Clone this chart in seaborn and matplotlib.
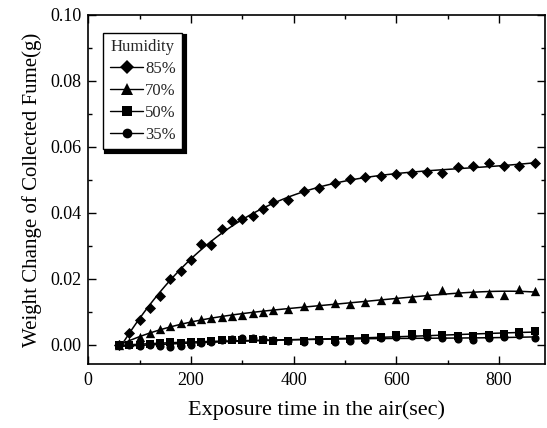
import matplotlib
matplotlib.use("Agg")
import matplotlib.pyplot as plt
from matplotlib.lines import Line2D
from matplotlib.ticker import MultipleLocator
import numpy as np
import pandas as pd
import seaborn as sns

# exposure time (sec): 20 s steps up to 360, then 30 s steps
time_sec = [60, 80, 100, 120, 140, 160, 180, 200, 220, 240, 260, 280, 300, 320, 340, 360,
            390, 420, 450, 480, 510, 540, 570, 600, 630, 660, 690, 720, 750, 780, 810, 840, 870]

rh85 = [0.0000, 0.0035, 0.0076, 0.0111, 0.0149, 0.0200, 0.0224, 0.0258, 0.0305, 0.0303,
        0.0352, 0.0374, 0.0382, 0.0391, 0.0412, 0.0432, 0.0439, 0.0465, 0.0475, 0.0490,
        0.0503, 0.0510, 0.0513, 0.0518, 0.0522, 0.0524, 0.0520, 0.0538, 0.0543, 0.0552,
        0.0543, 0.0543, 0.0550]
rh70 = [0.0000, 0.0010, 0.0023, 0.0035, 0.0048, 0.0057, 0.0065, 0.0071, 0.0078, 0.0082,
        0.0084, 0.0087, 0.0091, 0.0096, 0.0101, 0.0106, 0.0109, 0.0118, 0.0121, 0.0128,
        0.0123, 0.0131, 0.0136, 0.0138, 0.0141, 0.0152, 0.0165, 0.0159, 0.0157, 0.0157,
        0.0152, 0.0169, 0.0162]
rh50 = [0.0000, 0.0000, 0.0000, 0.0002, 0.0005, 0.0008, 0.0005, 0.0008, 0.0010, 0.0012,
        0.0014, 0.0016, 0.0015, 0.0017, 0.0014, 0.0013, 0.0013, 0.0013, 0.0014, 0.0015,
        0.0017, 0.0020, 0.0025, 0.0030, 0.0034, 0.0035, 0.0030, 0.0028, 0.0027, 0.0030,
        0.0033, 0.0040, 0.0042]
rh35 = [0.0000, 0.0000, -0.0002, 0.0000, -0.0003, -0.0005, -0.0004, 0.0000, 0.0005, 0.0010,
        0.0015, 0.0018, 0.0020, 0.0020, 0.0019, 0.0015, 0.0012, 0.0010, 0.0012, 0.0008,
        0.0012, 0.0015, 0.0020, 0.0025, 0.0028, 0.0025, 0.0022, 0.0018, 0.0015, 0.0020,
        0.0023, 0.0030, 0.0020]

humidity_labels = ["85%", "70%", "50%", "35%"]
series = [rh85, rh70, rh50, rh35]
markers = ["D", "^", "s", "o"]
marker_sizes = [32, 45, 30, 34]

sns.set_theme(style="ticks")
plt.rcParams["font.family"] = ["Liberation Serif", "DejaVu Serif"]

fig = plt.figure(figsize=(5.47, 4.28), dpi=100)
ax = fig.add_axes([0.1614, 0.1495, 0.835, 0.8155])

# polynomial trend line through each humidity series, plus the measured points
for vals, mk, ms in zip(series, markers, marker_sizes):
    df = pd.DataFrame({"time": time_sec, "weight": vals})
    sns.regplot(
        data=df, x="time", y="weight", ax=ax, order=4, ci=None,
        marker=mk, color="black",
        scatter_kws={"s": ms, "linewidths": 0, "alpha": 1},
        line_kws={"linewidth": 1.1, "color": "black"},
    )

ax.set_xlim(0, 890)
ax.set_ylim(-0.0058, 0.10)
ax.xaxis.set_major_locator(MultipleLocator(200))
ax.xaxis.set_minor_locator(MultipleLocator(100))
ax.yaxis.set_major_locator(MultipleLocator(0.02))
ax.yaxis.set_minor_locator(MultipleLocator(0.01))
ax.yaxis.set_major_formatter(matplotlib.ticker.FormatStrFormatter("%.2f"))
ax.tick_params(which="both", direction="in", top=True, right=True, colors="black",
               labelsize=13, width=1.0)
ax.tick_params(which="major", length=6)
ax.tick_params(which="minor", length=3)
ax.tick_params(axis="x", pad=6)
ax.tick_params(axis="y", pad=5)
for sp in ax.spines.values():
    sp.set_color("black")
    sp.set_linewidth(1.2)

ax.set_xlabel("Exposure time in the air(sec)", fontsize=16, labelpad=8, color="black")
ax.set_ylabel("Weight Change of Collected Fume(g)", fontsize=15, labelpad=6, color="black")

handles = [
    Line2D([], [], color="black", linewidth=1.0, marker=mk, markersize=7 if mk != "^" else 8,
           markeredgewidth=0)
    for mk in markers
]
leg = ax.legend(
    handles, humidity_labels, title="Humidity", loc="upper left",
    bbox_to_anchor=(0.033, 0.949), borderaxespad=0, fontsize=12, title_fontsize=12,
    frameon=True, fancybox=False, edgecolor="black", framealpha=1,
    shadow={"color": "black", "alpha": 1, "linewidth": 3},
    alignment="left",
    handlelength=2.0, handletextpad=0.1, labelspacing=0.35, borderpad=0.4,
)
leg.get_frame().set_linewidth(1.0)

fig.savefig("out.png", dpi=100)
plt.close(fig)
